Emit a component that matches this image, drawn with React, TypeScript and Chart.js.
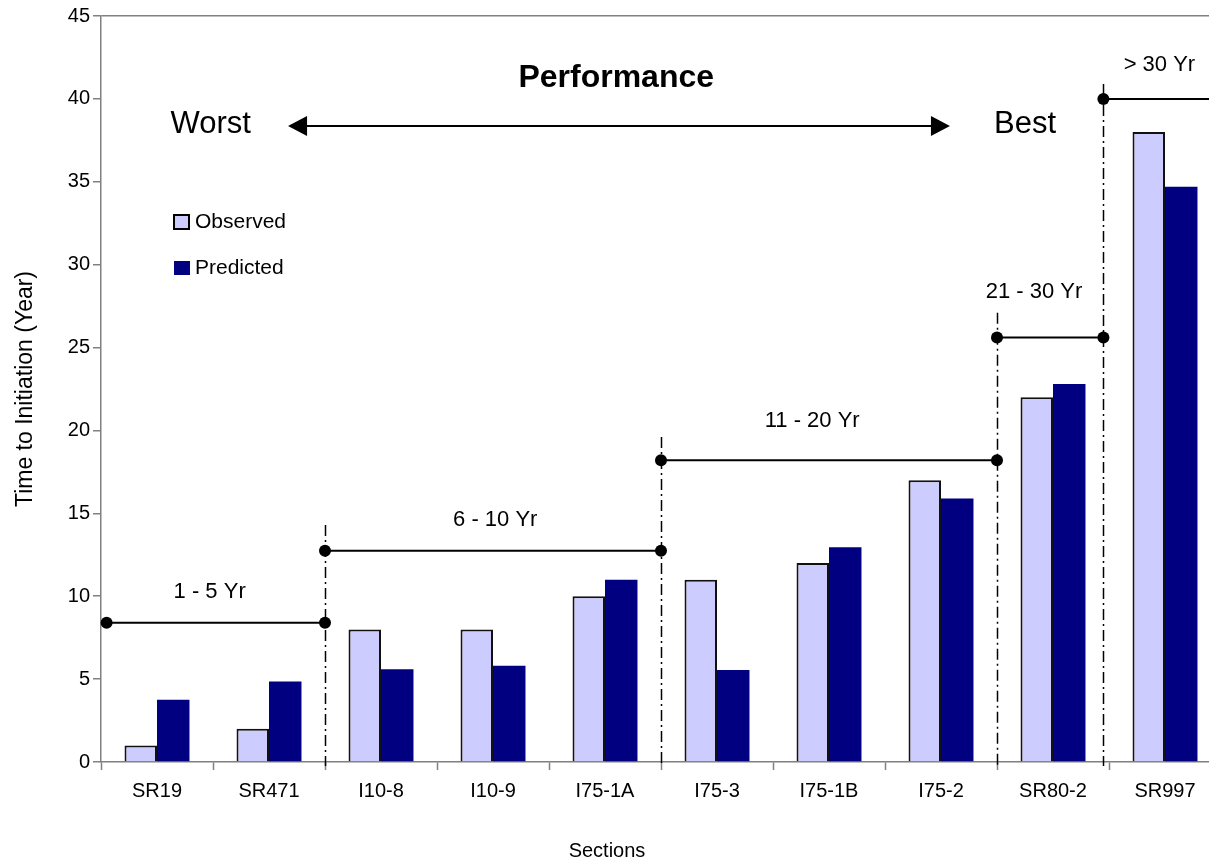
import React, { useEffect, useRef } from "react";
import { Chart, registerables } from "chart.js";

Chart.register(...registerables);

const categories = ["SR19", "SR471", "I10-8", "I10-9", "I75-1A", "I75-3", "I75-1B", "I75-2", "SR80-2", "SR997"];
const observed = [1, 2, 8, 8, 10, 11, 12, 17, 22, 38];
const predicted = [3.75, 4.85, 5.6, 5.8, 11, 5.55, 12.95, 15.9, 22.8, 34.7];
const seriesNames = ["Observed", "Predicted"];

const yMin = 0;
const yMax = 45;
const yStep = 5;

// Performance brackets (x in category index units, y in years)
const bracketLabels = ["1 - 5 Yr", "6 - 10 Yr", "11 - 20 Yr", "21 - 30 Yr", "> 30 Yr"];
const bracketStart = [-0.45, 1.5, 4.5, 7.5, 8.45];
const bracketEnd = [1.5, 4.5, 7.5, 8.45, 10.5];
const bracketLevel = [8.4, 12.75, 18.2, 25.6, 40];
const bracketLabelX = [0.47, 3.02, 5.85, 7.83, 8.95];
const bracketLabelY = [10.25, 14.6, 20.6, 28.35, 42.05];
const dividerX = [1.5, 4.5, 7.5, 8.45];
const dividerTop = [14.3, 19.6, 27.1, 40.9];

// Performance arrow annotation
const arrowFrom = 1.17;
const arrowTo = 7.08;
const arrowLevel = 38.36;
const worstText = "Worst";
const bestText = "Best";
const perfText = "Performance";
const worstX = 0.48;
const bestX = 7.75;
const perfX = 4.1;
const perfLevel = 41.26;
const yTitle = "Time to Initiation (Year)";
const xTitle = "Sections";

const OBS_COLOR = "#CCCCFF";
const PRED_COLOR = "#000080";
const AXIS_GRAY = "#808080";
const FONT = "'Liberation Sans', Arial, sans-serif";

const annotationPlugin = {
  id: "annotations",
  afterDraw(chart: any) {
    const ctx = chart.ctx;
    const xs = chart.scales.x;
    const ys = chart.scales.y;
    const ca = chart.chartArea;
    const px = (v: number) => xs.getPixelForValue(v);
    const py = (v: number) => ys.getPixelForValue(v);
    ctx.save();

    // dash-dot dividers
    ctx.strokeStyle = "#000";
    ctx.lineWidth = 1.5;
    ctx.setLineDash([11, 4, 2, 4]);
    dividerX.forEach((d, i) => {
      const x = Math.round(px(d)) + 0.5;
      ctx.beginPath();
      ctx.moveTo(x, py(dividerTop[i]));
      ctx.lineTo(x, ca.bottom + 4);
      ctx.stroke();
    });
    ctx.setLineDash([]);

    // brackets
    bracketLabels.forEach((lab, i) => {
      const x1 = px(bracketStart[i]);
      const x2 = px(bracketEnd[i]);
      const y = py(bracketLevel[i]);
      ctx.strokeStyle = "#000";
      ctx.lineWidth = 2;
      ctx.beginPath();
      ctx.moveTo(x1, y);
      ctx.lineTo(x2, y);
      ctx.stroke();
      ctx.fillStyle = "#000";
      [x1, x2].forEach((x) => {
        ctx.beginPath();
        ctx.arc(x, y, 6, 0, Math.PI * 2);
        ctx.fill();
      });
      ctx.font = `22px ${FONT}`;
      ctx.textAlign = "center";
      ctx.textBaseline = "middle";
      ctx.fillText(lab, px(bracketLabelX[i]), py(bracketLabelY[i]));
    });

    // Performance arrow
    const ay = py(arrowLevel);
    const ax1 = px(arrowFrom);
    const ax2 = px(arrowTo);
    const hl = 19;
    const hh = 10;
    ctx.strokeStyle = "#000";
    ctx.lineWidth = 2;
    ctx.beginPath();
    ctx.moveTo(ax1 + hl - 2, ay);
    ctx.lineTo(ax2 - hl + 2, ay);
    ctx.stroke();
    ctx.fillStyle = "#000";
    ctx.beginPath();
    ctx.moveTo(ax1, ay);
    ctx.lineTo(ax1 + hl, ay - hh);
    ctx.lineTo(ax1 + hl, ay + hh);
    ctx.closePath();
    ctx.fill();
    ctx.beginPath();
    ctx.moveTo(ax2, ay);
    ctx.lineTo(ax2 - hl, ay - hh);
    ctx.lineTo(ax2 - hl, ay + hh);
    ctx.closePath();
    ctx.fill();

    ctx.textAlign = "center";
    ctx.textBaseline = "middle";
    ctx.font = `31px ${FONT}`;
    ctx.fillText(worstText, px(worstX), py(arrowLevel) - 2);
    ctx.fillText(bestText, px(bestX), py(arrowLevel) - 2);
    ctx.font = `bold 32px ${FONT}`;
    ctx.fillText(perfText, px(perfX), py(perfLevel));

    // legend
    const lx = ca.left + 73;
    const ly1 = 222;
    const ly2 = 268;
    ctx.fillStyle = OBS_COLOR;
    ctx.fillRect(lx, ly1 - 7, 15, 14);
    ctx.strokeStyle = "#000";
    ctx.lineWidth = 2;
    ctx.strokeRect(lx, ly1 - 7, 15, 14);
    ctx.fillStyle = PRED_COLOR;
    ctx.fillRect(lx, ly2 - 7, 16, 14);
    ctx.fillStyle = "#000";
    ctx.font = `21px ${FONT}`;
    ctx.textAlign = "left";
    ctx.fillText(seriesNames[0], lx + 21, ly1);
    ctx.fillText(seriesNames[1], lx + 21, ly2);

    // axis titles
    ctx.font = `20px ${FONT}`;
    ctx.textAlign = "center";
    ctx.fillText(xTitle, 607, 851);
    ctx.save();
    ctx.translate(26, (ca.top + ca.bottom) / 2);
    ctx.rotate(-Math.PI / 2);
    ctx.font = `23px ${FONT}`;
    ctx.fillText(yTitle, 0, 0);
    ctx.restore();

    ctx.restore();
  },
};

export default function App() {
  const ref = useRef<HTMLCanvasElement | null>(null);
  useEffect(() => {
    if (!ref.current) return;
    const chart = new Chart(ref.current, {
      type: "bar",
      data: {
        labels: categories,
        datasets: [
          {
            label: seriesNames[0],
            data: observed,
            backgroundColor: OBS_COLOR,
            borderColor: "#111",
            borderWidth: 2,
            categoryPercentage: 0.58,
            barPercentage: 1,
          },
          {
            label: seriesNames[1],
            data: predicted,
            backgroundColor: PRED_COLOR,
            borderWidth: 0,
            categoryPercentage: 0.58,
            barPercentage: 1,
          },
        ],
      },
      options: {
        responsive: false,
        animation: false,
        devicePixelRatio: 1,
        layout: { padding: { top: 16, right: 4, left: 0, bottom: 0 } },
        plugins: { legend: { display: false }, tooltip: { enabled: false }, title: { display: false } },
        scales: {
          x: {
            offset: true,
            grid: {
              offset: true,
              color: "rgba(0,0,0,0)",
              tickColor: AXIS_GRAY,
              tickLength: 8,
              tickWidth: 1.5,
            },
            border: { color: AXIS_GRAY, width: 1.5 },
            ticks: {
              color: "#000",
              font: { family: FONT, size: 20 },
              padding: 9,
              maxRotation: 0,
              autoSkip: false,
            },
            afterFit: (s: any) => {
              s.height = 100;
            },
          },
          y: {
            min: yMin,
            max: yMax,
            ticks: {
              stepSize: yStep,
              color: "#000",
              font: { family: FONT, size: 20 },
              padding: 3,
            },
            grid: {
              color: (c: any) => (c.tick && c.tick.value === yMax ? AXIS_GRAY : "rgba(0,0,0,0)"),
              lineWidth: 1.5,
              tickColor: AXIS_GRAY,
              tickLength: 8,
              tickWidth: 1.5,
            },
            border: { color: AXIS_GRAY, width: 1.5 },
            afterFit: (s: any) => {
              s.width = 101;
            },
          },
        },
      },
      plugins: [annotationPlugin],
    });
    return () => chart.destroy();
  }, []);

  return (
    <div
      style={{
        position: "fixed",
        left: 0,
        top: 0,
        width: 1209,
        height: 862,
        overflow: "hidden",
        background: "#fff",
      }}
    >
      <canvas ref={ref} width={1225} height={862} style={{ display: "block", width: 1225, height: 862 }} />
    </div>
  );
}
